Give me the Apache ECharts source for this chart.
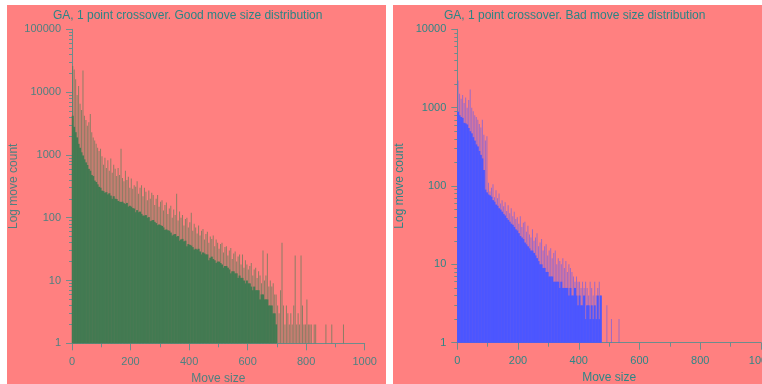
<!DOCTYPE html>
<html><head><meta charset="utf-8">
<script src="https://cdn.jsdelivr.net/npm/echarts@6/dist/echarts.min.js"></script>
<style>
html,body{margin:0;padding:0;background:#fff;width:762px;height:384px;overflow:hidden;}
.panel{position:absolute;background:#ff8080;}
#chart{position:absolute;left:0;top:0;width:762px;height:384px;}
</style></head><body>
<div class="panel" style="left:7px;top:5px;width:379px;height:379px"></div>
<div class="panel" style="left:393px;top:5px;width:369px;height:379px"></div>
<div id="chart"></div>
<script>
// Histogram bins: move size 0..., 5 units per bin
const binWidth = 5;
const titles = ['GA, 1 point crossover. Good move size distribution', 'GA, 1 point crossover. Bad move size distribution'];
const xTickLabels = [0, 200, 400, 600, 800, 1000];

// Good distribution: solid body height per bin (0..695)
const goodBody = [
4200,2800,2300,1900,1500,1300,1100,980,850,760,690,600,560,480,460,390,370,340,310,300,
270,265,250,255,235,245,225,200,220,200,198,185,180,178,180,170,165,172,150,155,
150,142,140,122,132,122,125,115,108,108,110,100,102,88,90,92,86,82,76,78,
76,74,70,64,65,63,62,58,52,54,55,50,51,43,45,46,42,43,35,38,
37,36,34,31,32,31,32,29,26,28,27,26,26,21,23,24,22,21,19,20,
20,19,18,16,17,17,16,15,13,14,14,13,13,11,12,11,11,10,9,10,
9,9,8,7,8,7,7,7,5,6,6,5,5,5,4,4,4,3,3,2
];
// Good distribution: peak (spike) height per bin (0..925)
const goodPeak = [
26000,23000,16000,9000,12500,6500,5200,22000,4200,3600,2900,3300,4500,2300,1900,1700,1500,1300,1150,1250,
950,700,900,620,820,560,880,520,700,600,460,620,480,1250,430,380,560,400,450,300,
420,290,330,310,380,240,300,330,220,300,260,190,270,200,250,230,160,200,230,150,
180,190,130,160,175,115,140,155,100,135,110,240,90,125,100,110,75,95,100,70,
85,120,62,80,70,56,75,52,62,66,45,55,60,40,50,46,52,35,45,40,
32,38,40,28,34,35,25,30,33,22,27,29,20,24,26,18,26,16,21,18,
15,17,19,12,15,16,11,14,12,9,30,10,12,27,8,10,8,9,6,6,
4,3,7,40,4,2,4,3,2,3,2,4,25,2,3,2,25,4,2,2,
5,2,2,2,null,2,2,null,null,null,null,null,null,2,null,null,null,2,null,null,
null,null,null,null,null,2
];
// Bad distribution: solid body height per bin (0..470)
const badBody = [
890,800,760,740,640,630,610,550,500,470,420,380,340,320,280,250,225,160,90,83,
78,76,73,66,63,58,56,52,50,47,44,42,39,37,35,33,32,30,28,27,
25,23,22,21,19,18,17,16,15,15,14,13,12,11,10,10,9,9,8,8,
7,7,7,6,6,6,6,5,6,5,5,5,5,4,5,4,4,5,4,3,
4,3,3,4,2,3,3,2,3,2,3,2,4,2,4
];
// Bad distribution: peak (spike) height per bin (0..530)
const badPeak = [
2200,1500,1300,1450,1150,1350,1000,1250,1700,1000,900,800,760,700,620,560,700,450,380,430,
110,85,95,105,72,88,70,80,60,66,55,62,48,57,45,52,41,47,38,40,
33,41,30,34,35,26,31,24,22,28,20,22,25,17,19,21,15,17,18,13,
15,16,12,14,15,10,12,11,10,12,9,11,8,10,9,8,7,6,7,6,
6,5,6,5,6,5,4,6,5,4,6,4,5,6,4,null,null,null,3,null,
null,2,null,null,null,null,2
];

function toPairs(arr) {
  const out = [];
  arr.forEach(function (v, i) { if (v != null) out.push([i * binWidth + binWidth / 2, v]); });
  return out;
}

const axisC = '#6e8c8c';
const leftLabelC = '#4f8080';
const rightLabelC = '#2e8686';
const titleC = '#2a8585';
const font = 'Liberation Sans, Arial, sans-serif';

function xAx(grid, labelC) {
  return {
    gridIndex: grid, type: 'value', min: 0, max: 1000, interval: 200,
    axisLine: { show: true, lineStyle: { color: axisC, width: 1 } },
    axisTick: { show: true, length: 7, lineStyle: { color: axisC } },
    minorTick: { show: true, splitNumber: 2, length: 4, lineStyle: { color: axisC } },
    splitLine: { show: false },
    axisLabel: { color: labelC, fontSize: 11, fontFamily: font, margin: 13,
      formatter: function (v) { return xTickLabels.indexOf(v) >= 0 ? String(v) : ''; } },
    name: 'Move size', nameLocation: 'middle', nameGap: 28,
    nameTextStyle: { color: labelC, fontSize: 12, fontFamily: font }
  };
}
function xHidden(grid) {
  return { gridIndex: grid, type: 'value', min: 0, max: 1000, show: false, splitLine: { show: false } };
}
function yAx(grid, max, labelC) {
  return {
    gridIndex: grid, type: 'log', logBase: 10, min: 1, max: max,
    axisLine: { show: true, lineStyle: { color: axisC, width: 1 } },
    axisTick: { show: true, length: 6, lineStyle: { color: axisC } },
    minorTick: { show: true, splitNumber: 9, length: 3, lineStyle: { color: axisC } },
    splitLine: { show: false },
    axisLabel: { color: labelC, fontSize: 11, fontFamily: font, margin: 11,
      formatter: function (v) { return String(v); } },
    name: 'Log move count', nameLocation: 'middle', nameGap: 52,
    nameTextStyle: { color: labelC, fontSize: 12, fontFamily: font }
  };
}

const chart = echarts.init(document.getElementById('chart'), null, { renderer: 'canvas' });
chart.setOption({
  animation: false,
  backgroundColor: 'transparent',
  title: [
    { text: titles[0], left: 53, top: 10, padding: 0, textStyle: { color: titleC, fontSize: 12, fontWeight: 'normal', fontFamily: font } },
    { text: titles[1], left: 444, top: 10, padding: 0, textStyle: { color: titleC, fontSize: 12, fontWeight: 'normal', fontFamily: font } }
  ],
  grid: [
    { left: 72, top: 29.3, width: 292.7, height: 314, containLabel: false, outerBoundsMode: 'none' },
    { left: 457.3, top: 29.3, width: 303.7, height: 313.4, containLabel: false, outerBoundsMode: 'none' }
  ],
  xAxis: [xAx(0, leftLabelC), xHidden(0), xAx(1, rightLabelC), xHidden(1)],
  yAxis: [yAx(0, 100000, leftLabelC), yAx(1, 10000, rightLabelC)],
  series: [
    { type: 'bar', name: 'good peak', xAxisIndex: 1, yAxisIndex: 0, data: toPairs(goodPeak),
      barWidth: 1, itemStyle: { color: 'rgba(67,122,82,0.6)' } },
    { type: 'bar', name: 'good', xAxisIndex: 0, yAxisIndex: 0, data: toPairs(goodBody),
      barWidth: 2, itemStyle: { color: '#437a52' } },
    { type: 'bar', name: 'bad peak', xAxisIndex: 3, yAxisIndex: 1, data: toPairs(badPeak),
      barWidth: 1, itemStyle: { color: 'rgba(76,86,255,0.55)' } },
    { type: 'bar', name: 'bad', xAxisIndex: 2, yAxisIndex: 1, data: toPairs(badBody),
      barWidth: 2, itemStyle: { color: '#4c56ff' } }
  ]
});
</script>
</body></html>
